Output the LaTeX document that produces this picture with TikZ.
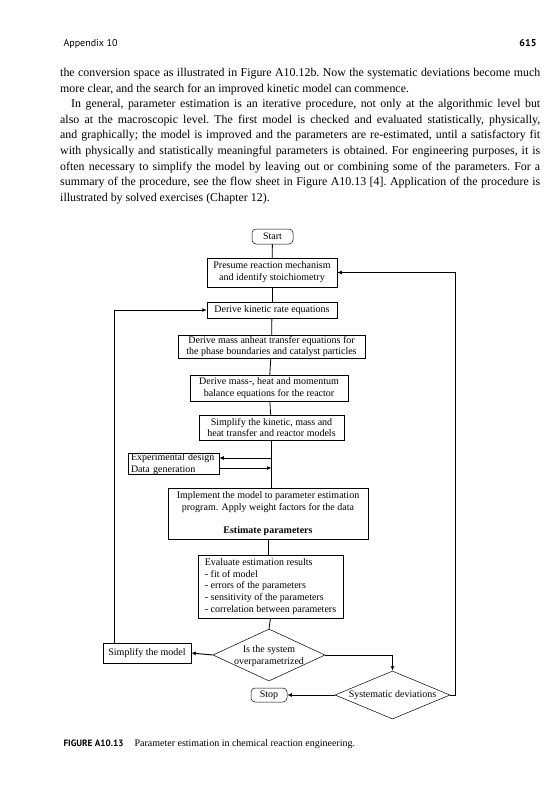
\documentclass[tikz,border=0pt]{standalone}
\usepackage{fontspec}
\setmainfont{Liberation Serif}
\newfontfamily\headsans{PT Sans}
\usetikzlibrary{arrows.meta,shapes.geometric,calc}
\newcommand{\flowfont}{\fontsize{10}{11.8}\selectfont}

\begin{document}
\begin{tikzpicture}[x=1pt,y=-1pt,
  box/.style={draw,line width=0.5pt,inner sep=0pt,align=center,font=\flowfont},
  term/.style={box,rounded corners=4pt},
  dec/.style={draw,diamond,line width=0.5pt,inner sep=0pt},
  link/.style={line width=0.8pt},
  arr/.style={line width=0.95pt,-{Latex[length=4.5pt,width=4pt]}}]
  \useasboundingbox (0,0) rectangle (558,800);
  % page text
  \node[anchor=base west,font=\headsans\fontsize{10}{12}\selectfont] (head) at (60,47) {Appendix 10};
  \node[anchor=base east,font=\headsans\bfseries\fontsize{10}{12}\selectfont] (pagenum) at (540,47) {615};
  \node[anchor=north west,text width=480pt,align=justify,inner sep=0pt,font=\frenchspacing\fontsize{11.9}{15.6}\selectfont] (body) at (60,68) {the conversion space as illustrated in Figure A10.12b. Now the systematic deviations become much\linebreak
  more clear, and the search for an improved kinetic model can commence.\par
  \hspace*{11pt}In general, parameter estimation is an iterative procedure, not only at the algorithmic level but\linebreak
  also at the macroscopic level. The first model is checked and evaluated statistically, physically,\linebreak
  and graphically; the model is improved and the parameters are re-estimated, until a satisfactory fit\linebreak
  with physically and statistically meaningful parameters is obtained. For engineering purposes, it is\linebreak
  often necessary to simplify the model by leaving out or combining some of the parameters. For a\linebreak
  summary of the procedure, see the flow sheet in Figure A10.13 [4]. Application of the procedure is\linebreak
  illustrated by solved exercises (Chapter 12).};
  % flow sheet
  \node[term,minimum width=41pt,minimum height=15pt] (start) at (272.5,236.5) {Start};
  \node[box,minimum width=130pt,minimum height=29pt] (presume) at (272,272.5) {Presume reaction mechanism\\and identify stoichiometry};
  \node[box,minimum width=130pt,minimum height=16pt] (kinetic) at (272,310) {Derive kinetic rate equations};
  \node[box,minimum width=187pt,minimum height=23pt] (massheat) at (271.5,346.5) {Derive mass anheat transfer equations for\\the phase boundaries and catalyst particles};
  \node[box,minimum width=158pt,minimum height=26pt] (balance) at (269,388) {Derive mass-, heat and momentum\\balance equations for the reactor};
  \node[box,minimum width=145pt,minimum height=25pt] (simplify) at (271.5,427.5) {Simplify the kinetic, mass and\\heat transfer and reactor models};
  \node[box,align=left,text width=85pt,inner xsep=3pt,minimum height=20pt] (expdesign) at (173.5,464) {Experimental design\\Data generation};
  \node[box,minimum width=200pt,minimum height=51pt] (implement) at (268,513.5) {Implement the model to parameter estimation\\program. Apply weight factors for the data\\[11pt]\textbf{Estimate parameters}};
  \node[box,align=left,minimum width=145pt,minimum height=63pt] (evaluate) at (270.5,586.5) {Evaluate estimation results\\- fit of model\\- errors of the parameters\\- sensitivity of the parameters\\- correlation between parameters};
  \node[dec,minimum width=112pt,minimum height=52pt] (over) at (269,655) {};
  \node[align=center,font=\flowfont,inner sep=0pt] (overtext) at (269,656) {Is the system\\overparametrized};
  \node[box,minimum width=88pt,minimum height=20pt] (simpmodel) at (147,653) {Simplify the model};
  \node[dec,minimum width=115pt,minimum height=48pt] (sysdev) at (392.5,695) {};
  \node[font=\flowfont,inner sep=0pt] (sysdevtext) at (392.5,695.5) {Systematic deviations};
  \node[term,minimum width=36pt,minimum height=14pt] (stop) at (269,695) {Stop};
  \coordinate (expin) at ($(expdesign.east)+(0,-6)$);
  \coordinate (expout) at ($(expdesign.east)+(0,4)$);
  \coordinate (rback) at ($(sysdev.east)+(5,0)$);
  \coordinate (lback) at ($(simpmodel.north west)+(12,0)$);
  % connectors
  \draw[link] (start) -- (presume);
  \draw[link] (presume) -- (kinetic);
  \draw[link] (kinetic) -- (massheat);
  \draw[link] (massheat) -- (balance);
  \draw[link] (balance) -- (simplify);
  \draw[link] (simplify.south) -- (simplify.south |- implement.north);
  \draw[arr] (simplify.south |- expin) -- (expin);
  \draw[arr] (expout) -- (simplify.south |- expout);
  \draw[link] (implement.south) -- (implement.south |- evaluate.north);
  \draw[link] (evaluate.south) -- (over.north);
  \draw[arr] (over.west) -- (simpmodel.east);
  \draw[arr] (over.east) -| (sysdev.north);
  \draw[arr] (sysdev.west) -- (stop.east);
  \draw[arr] (sysdev.east) -- (rback) |- (presume.east);
  \draw[arr] (lback) |- (kinetic.west);
  \node[anchor=base west,font=\fontsize{10}{12}\selectfont] (caption) at (60,746) {{\headsans\bfseries\fontsize{9.2}{12}\selectfont FIGURE A10.13}\hspace{11pt}Parameter estimation in chemical reaction engineering.};
\end{tikzpicture}
\end{document}
